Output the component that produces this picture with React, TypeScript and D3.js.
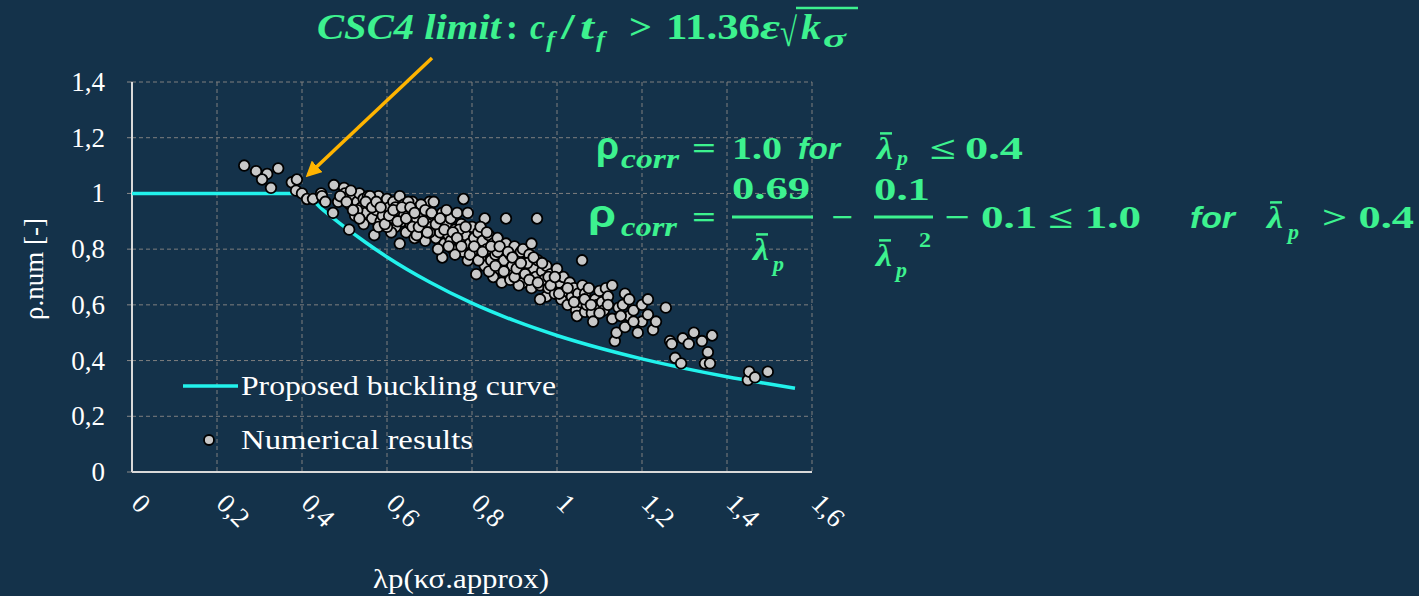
import * as d3 from "d3";
import React from "react";

// x ticks / y ticks of the chart
const xTicks = [0, 0.2, 0.4, 0.6, 0.8, 1, 1.2, 1.4, 1.6];
const xTickLabels = ["0", "0,2", "0,4", "0,6", "0,8", "1", "1,2", "1,4", "1,6"];
const yTicks = [0, 0.2, 0.4, 0.6, 0.8, 1, 1.2, 1.4];
const yTickLabels = ["0", "0,2", "0,4", "0,6", "0,8", "1", "1,2", "1,4"];

// proposed buckling curve
const curveLambda = [0, 0.4, 0.45, 0.5, 0.55, 0.6, 0.7, 0.8, 0.9, 1.0, 1.1, 1.2, 1.3, 1.4, 1.5, 1.56];
const curveRho = [1, 1, 0.94, 0.88, 0.824, 0.772, 0.682, 0.606, 0.543, 0.49, 0.445, 0.406, 0.372, 0.342, 0.316, 0.301];

// numerical results [lambda, rho]
const numerical: [number, number][] = [
  [0.264, 1.10], [0.292, 1.08], [0.318, 1.07], [0.344, 1.09], [0.306, 1.05], [0.327, 1.02],
  [0.376, 1.04], [0.388, 1.05], [0.386, 1.01], [0.400, 1.00], [0.412, 0.98], [0.426, 0.98],
  [0.445, 1.00], [0.447, 0.99], [0.455, 0.97], [0.473, 0.93], [0.475, 1.03], [0.499, 1.02],
  [0.501, 1.00], [0.485, 0.97], [0.511, 0.87], [0.513, 0.96], [0.525, 0.92],
  [0.52, 0.99], [0.53, 0.97], [0.535, 1.00], [0.54, 0.95], [0.545, 0.98], [0.55, 0.93],
  [0.555, 0.99], [0.56, 0.96], [0.565, 0.91], [0.57, 0.98], [0.575, 0.94], [0.58, 0.99],
  [0.585, 0.90], [0.59, 0.96], [0.595, 0.93], [0.60, 0.98], [0.57, 0.85], [0.545, 0.89],
  [0.58, 0.88], [0.53, 0.94], [0.56, 0.99], [0.59, 0.92],
  [0.605, 0.95], [0.61, 0.91], [0.615, 0.97], [0.62, 0.88], [0.625, 0.94], [0.63, 0.82],
  [0.63, 0.99], [0.635, 0.90], [0.64, 0.96], [0.645, 0.86], [0.65, 0.93], [0.655, 0.89],
  [0.66, 0.97], [0.665, 0.84], [0.67, 0.91], [0.675, 0.95], [0.68, 0.87], [0.685, 0.93],
  [0.69, 0.83], [0.695, 0.90], [0.70, 0.97], [0.61, 0.86], [0.64, 0.92], [0.66, 0.88],
  [0.68, 0.96], [0.62, 0.95], [0.65, 0.97], [0.67, 0.85], [0.69, 0.94], [0.60, 0.88],
  [0.705, 0.88], [0.71, 0.92], [0.71, 0.97], [0.715, 0.84], [0.72, 0.90], [0.725, 0.86],
  [0.73, 0.93], [0.73, 0.77], [0.735, 0.82], [0.74, 0.89], [0.745, 0.85], [0.75, 0.91],
  [0.755, 0.80], [0.76, 0.87], [0.765, 0.93], [0.77, 0.83], [0.775, 0.89], [0.78, 0.98],
  [0.78, 0.79], [0.785, 0.85], [0.79, 0.93], [0.79, 0.76], [0.795, 0.82], [0.80, 0.88],
  [0.72, 0.80], [0.74, 0.94], [0.76, 0.78], [0.70, 0.86], [0.75, 0.83], [0.77, 0.87],
  [0.805, 0.84], [0.81, 0.71], [0.81, 0.80], [0.815, 0.86], [0.82, 0.77], [0.825, 0.83],
  [0.83, 0.91], [0.83, 0.74], [0.835, 0.80], [0.84, 0.85], [0.845, 0.76], [0.85, 0.70],
  [0.85, 0.82], [0.855, 0.78], [0.86, 0.84], [0.865, 0.73], [0.87, 0.80], [0.875, 0.76],
  [0.88, 0.91], [0.88, 0.82], [0.885, 0.71], [0.89, 0.78], [0.895, 0.74], [0.90, 0.81],
  [0.82, 0.88], [0.84, 0.72], [0.86, 0.79], [0.87, 0.68], [0.89, 0.69], [0.80, 0.79],
  [0.905, 0.77], [0.91, 0.72], [0.915, 0.79], [0.92, 0.80], [0.92, 0.68], [0.925, 0.75],
  [0.93, 0.71], [0.935, 0.78], [0.94, 0.82], [0.94, 0.66], [0.945, 0.73], [0.95, 0.70],
  [0.953, 0.91], [0.955, 0.76], [0.96, 0.67], [0.965, 0.72], [0.97, 0.69], [0.975, 0.63],
  [0.975, 0.74], [0.98, 0.66], [0.985, 0.71], [0.99, 0.68], [0.995, 0.64], [1.0, 0.73],
  [0.91, 0.67], [0.93, 0.75], [0.96, 0.62], [0.98, 0.70], [0.90, 0.70],
  [1.005, 0.68], [1.01, 0.62], [1.015, 0.70], [1.02, 0.65], [1.025, 0.60], [1.03, 0.68],
  [1.035, 0.63], [1.04, 0.66], [1.045, 0.58], [1.047, 0.56], [1.05, 0.64], [1.055, 0.61],
  [1.059, 0.76], [1.06, 0.67], [1.066, 0.64], [1.066, 0.575], [1.07, 0.60], [1.075, 0.66],
  [1.082, 0.57], [1.085, 0.54], [1.09, 0.62], [1.095, 0.60], [1.10, 0.65], [1.106, 0.61],
  [1.11, 0.58], [1.115, 0.66], [1.12, 0.63], [1.13, 0.67], [1.13, 0.55], [1.136, 0.47],
  [1.14, 0.50], [1.145, 0.59], [1.155, 0.60], [1.16, 0.64], [1.17, 0.62], [1.17, 0.56],
  [1.18, 0.58], [1.19, 0.50], [1.2, 0.54], [1.2, 0.60],
  [1.214, 0.62], [1.214, 0.565], [1.226, 0.51], [1.233, 0.54], [1.256, 0.59], [1.266, 0.47],
  [1.27, 0.46], [1.278, 0.41], [1.292, 0.39], [1.296, 0.48], [1.31, 0.46], [1.322, 0.50],
  [1.341, 0.47], [1.348, 0.39], [1.355, 0.43], [1.36, 0.39], [1.365, 0.49],
  [1.449, 0.33], [1.452, 0.36], [1.466, 0.34], [1.496, 0.36],
  [0.49, 0.99], [0.505, 0.97], [0.515, 1.01], [0.52, 0.94], [0.535, 0.91], [0.55, 0.97],
  [0.565, 0.95], [0.575, 0.97], [0.585, 0.95], [0.595, 0.89], [0.605, 0.92], [0.615, 0.94],
  [0.625, 0.90], [0.635, 0.95], [0.645, 0.91], [0.655, 0.95], [0.665, 0.93], [0.675, 0.88],
  [0.685, 0.90], [0.695, 0.86], [0.705, 0.93], [0.715, 0.89], [0.725, 0.91], [0.735, 0.87],
  [0.745, 0.81], [0.755, 0.86], [0.765, 0.84], [0.775, 0.81], [0.785, 0.88], [0.795, 0.78],
  [0.805, 0.81], [0.815, 0.76], [0.825, 0.79], [0.835, 0.86], [0.845, 0.81], [0.855, 0.74],
  [0.865, 0.81], [0.875, 0.72], [0.885, 0.79], [0.895, 0.77], [0.905, 0.73], [0.915, 0.75],
  [0.925, 0.71], [0.935, 0.69], [0.945, 0.77], [0.955, 0.68], [0.965, 0.75], [0.985, 0.67],
  [0.995, 0.70], [1.005, 0.64], [1.025, 0.66], [1.04, 0.61], [1.065, 0.62], [1.08, 0.60],
  [1.1, 0.57], [1.12, 0.60], [1.15, 0.56], [1.16, 0.52], [1.18, 0.54],
];

const BG = "#14324a";
const GREEN = "#3df28f";
const CYAN = "#22f2ec";
const SERIF = "'Liberation Serif', 'DejaVu Serif', serif";
const SANS = "'Liberation Sans', Arial, sans-serif";

const W = 1419;
const H = 596;

const T = (p: any) => {
  const { x, y, size, w, it, bold = true, fam = SERIF, children, anchor } = p;
  return (
    <text
      x={x}
      y={y}
      fontSize={size}
      fontFamily={fam}
      fontWeight={bold ? "bold" : "normal"}
      fontStyle={it ? "italic" : "normal"}
      fill={GREEN}
      textAnchor={anchor}
      textLength={w}
      lengthAdjust={w ? "spacingAndGlyphs" : undefined}
    >
      {children}
    </text>
  );
};

const LambdaBar = ({ x, y, size, px, py, ps = 22 }: any) => (
  <g>
    <T x={x} y={y} size={size} it w={16}>λ</T>
    <line x1={x + 3} x2={x + 15} y1={y - size * 0.8} y2={y - size * 0.8} stroke={GREEN} strokeWidth={2.5} />
    <T x={px + 2} y={py} size={ps} it w={11}>p</T>
  </g>
);

const App = () => {
  const x = d3.scaleLinear().domain([0, 1.6]).range([132, 812]);
  const y = d3.scaleLinear().domain([0, 1.4]).range([472, 82]);
  const line = d3
    .line<number>()
    .x((d) => x(d))
    .y((d, i) => y(curveRho[i]))
    .curve(d3.curveMonotoneX);

  return (
    <svg width={W} height={H} style={{ position: "absolute", left: 0, top: 0, background: BG }}>
      <defs>
        <marker id="ah" viewBox="0 0 10 10" refX="8" refY="5" markerWidth="4.5" markerHeight="4.5" orient="auto">
          <path d="M0,0 L10,5 L0,10 z" fill="#ffb400" />
        </marker>
      </defs>
      <rect width={W} height={H} fill={BG} />

      {/* grid */}
      {xTicks.slice(1).map((t) => (
        <line key={"gx" + t} x1={x(t)} x2={x(t)} y1={y(1.4)} y2={y(0)} stroke="#7f7f7f" strokeDasharray="4,3" strokeWidth={1} />
      ))}
      {yTicks.slice(1).map((t) => (
        <line key={"gy" + t} x1={x(0)} x2={x(1.6)} y1={y(t)} y2={y(t)} stroke="#7f7f7f" strokeDasharray="4,3" strokeWidth={1} />
      ))}
      {yTicks.map((t) => (
        <line key={"ty" + t} x1={x(0) - 5} x2={x(0)} y1={y(t)} y2={y(t)} stroke="#8a8a8a" strokeWidth={1} />
      ))}

      {/* axes */}
      <line x1={x(0)} x2={x(0)} y1={y(1.4)} y2={y(0)} stroke="#d9d9d9" strokeWidth={2} />
      <line x1={x(0)} x2={x(1.6)} y1={y(0)} y2={y(0)} stroke="#d9d9d9" strokeWidth={2} />

      {yTicks.map((t, i) => (
        <text key={"yl" + t} x={105} y={y(t) + 9} fontSize={27} fontFamily={SERIF} fill="#fff" textAnchor="end">
          {yTickLabels[i]}
        </text>
      ))}
      {xTicks.map((t, i) => (
        <text
          key={"xl" + t}
          transform={`translate(${x(t) - 2},${505}) rotate(45)`}
          fontSize={27}
          fontFamily={SERIF}
          fill="#fff"
          textAnchor="start"
        >
          {xTickLabels[i]}
        </text>
      ))}

      <text transform={`translate(43,269) rotate(-90)`} fontSize={27} fontFamily={SERIF} fill="#fff" textAnchor="middle" textLength={102} lengthAdjust="spacingAndGlyphs">
        ρ.num [-]
      </text>
      <text x={373} y={588} fontSize={28} fontFamily={SERIF} fill="#fff" textLength={176} lengthAdjust="spacingAndGlyphs">
        λp(κσ.approx)
      </text>

      {/* curve */}
      <path d={line(curveLambda) || ""} fill="none" stroke={CYAN} strokeWidth={3.5} />

      {/* points */}
      {numerical.map((d, i) => (
        <circle key={i} cx={x(d[0])} cy={y(d[1])} r={5.3} fill="#c8c8c8" stroke="#000" strokeWidth={1.8} />
      ))}

      {/* legend */}
      <line x1={183} x2={238} y1={386} y2={386} stroke={CYAN} strokeWidth={3.5} />
      <text x={241} y={395} fontSize={27} fontFamily={SERIF} fill="#fff" textLength={315} lengthAdjust="spacingAndGlyphs">
        Proposed buckling curve
      </text>
      <circle cx={209} cy={440} r={5} fill="#c8c8c8" stroke="#000" strokeWidth={1.8} />
      <text x={241} y={449} fontSize={27} fontFamily={SERIF} fill="#fff" textLength={232} lengthAdjust="spacingAndGlyphs">
        Numerical results
      </text>

      {/* arrow */}
      <line x1={432} y1={58} x2={308} y2={175} stroke="#ffb400" strokeWidth={3.5} markerEnd="url(#ah)" />

      {/* title */}
      <T x={317} y={39} size={36} it w={184}>CSC4 limit</T>
      <T x={506} y={39} size={36}>:</T>
      <T x={530} y={39} size={36} it w={15}>c</T>
      <T x={546} y={47} size={24} it w={9}>f</T>
      <T x={561} y={39} size={36} w={14}>/</T>
      <T x={580} y={39} size={36} it w={14}>t</T>
      <T x={596} y={47} size={24} it w={9}>f</T>
      <T x={629} y={39} size={36} w={23}>&gt;</T>
      <T x={666} y={39} size={36} w={94}>11.36</T>
      <T x={760} y={39} size={36} it w={20}>ε</T>
      <T x={780} y={46} size={40} bold={false} w={17}>√</T>
      <line x1={796} x2={858} y1={8} y2={8} stroke={GREEN} strokeWidth={2.5} />
      <T x={801} y={39} size={36} it w={20}>k</T>
      <T x={823} y={47} size={26} it w={23}>σ</T>

      {/* formula line 1 */}
      <T x={596} y={159} size={38} fam={SANS} w={23}>ρ</T>
      <T x={621} y={168} size={27} it w={58}>corr</T>
      <T x={692} y={159} size={32} w={24}>=</T>
      <T x={732} y={159} size={32} w={50}>1.0</T>
      <T x={798} y={159} size={30} it fam={SANS} w={42}>for</T>
      <LambdaBar x={877} y={159} size={32} px={895} py={165} ps={20} />
      <T x={930} y={159} size={32} w={26}>≤</T>
      <T x={965} y={159} size={32} w={58}>0.4</T>

      {/* formula line 2 */}
      <T x={588} y={227} size={38} fam={SANS} w={28}>ρ</T>
      <T x={621} y={236} size={27} it w={56}>corr</T>
      <T x={692} y={228} size={32} w={24}>=</T>
      <T x={732} y={199} size={32} w={78}>0.69</T>
      <line x1={732} x2={813} y1={217} y2={217} stroke={GREEN} strokeWidth={3} />
      <LambdaBar x={753} y={260} size={32} px={771} py={271} />
      <T x={831} y={228} size={32} w={22}>−</T>
      <T x={874} y={200} size={31} w={56}>0.1</T>
      <line x1={874} x2={933} y1={217} y2={217} stroke={GREEN} strokeWidth={3} />
      <LambdaBar x={876} y={266} size={32} px={894} py={277} />
      <T x={919} y={247} size={22} w={12}>2</T>
      <T x={944} y={228} size={32} w={197}>− 0.1 ≤ 1.0</T>
      <T x={1190} y={228} size={30} it fam={SANS} w={45}>for</T>
      <LambdaBar x={1267} y={228} size={32} px={1286} py={239} />
      <T x={1322} y={228} size={32} w={92}>&gt; 0.4</T>
    </svg>
  );
};

export default App;
